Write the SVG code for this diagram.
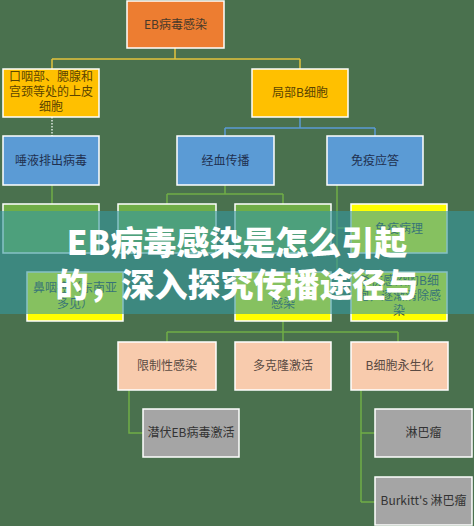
<svg xmlns="http://www.w3.org/2000/svg" width="474" height="526" viewBox="0 0 474 526">
<style>
.box{stroke:#ffffff;stroke-width:1.5}
.t{font-family:"Noto Sans CJK SC","Noto Sans",sans-serif;font-size:12px;text-anchor:middle}
.or{fill:#ed7d31}.ye{fill:#ffc000}.bl{fill:#5b9bd5}.gr{fill:#70ad47}.hl{fill:#ffff00}.pe{fill:#f8cbad}.gy{fill:#a5a5a5}
.c{fill:none;stroke-width:1.5}
.banner{font-family:"Noto Sans CJK SC","Noto Sans",sans-serif;font-size:33px;font-weight:900;fill:#ffffff;text-anchor:middle}
</style>
<rect width="474" height="526" fill="#4a714e"/>
<g id="connectors">
<path class="c" stroke="#e2c23c" d="M175,48V59M52,59H300M52,59V69M300,59V69"/>
<path class="c" stroke="#dde6e0" stroke-dasharray="1.5,1.5" d="M52,117V136"/>
<path class="c" stroke="#5b9bd5" d="M300,117V128M225,128H375M225,128V136M375,128V136"/>
<path class="c" stroke="#70ad47" d="M52,185V204M225,185V194M167,194H283M167,194V204M283,194V204M337,185V296M337,228H351M337,296H351"/>
<path class="c" stroke="#70ad47" d="M283,321V332M167,332H398M167,332V342M283,332V342M398,332V342"/>
<path class="c" stroke="#70ad47" d="M129,390V433H143M361,390V502M361,433H375M361,502H375"/>
</g>
<g id="n1"><rect class="box or" x="127" y="1" width="97" height="47"/><text class="t" x="175.5" y="29" fill="#4a3a2a">EB病毒感染</text></g>
<g id="n2"><rect class="box ye" x="3" y="69" width="96" height="48"/><text class="t" x="51" y="81" fill="#5c4500" font-size="12.5">口咽部、腮腺和</text><text class="t" x="51" y="96" fill="#5c4500" font-size="12.5">宫颈等处的上皮</text><text class="t" x="51" y="111" fill="#5c4500" font-size="12.5">细胞</text></g>
<g id="n3"><rect class="box ye" x="252" y="69" width="96" height="48"/><text class="t" x="300" y="97" fill="#5c4500">局部B细胞</text></g>
<g id="n4"><rect class="box bl" x="3" y="136" width="96" height="49"/><text class="t" x="51" y="165" fill="#1f3050">唾液排出病毒</text></g>
<g id="n5"><rect class="box bl" x="177" y="136" width="97" height="49"/><text class="t" x="225.5" y="165" fill="#1f3050">经血传播</text></g>
<g id="n6"><rect class="box bl" x="327" y="136" width="96" height="49"/><text class="t" x="375" y="165" fill="#1f3050">免疫应答</text></g>
<g id="n7"><rect class="box gr" x="3" y="204" width="96" height="49"/></g>
<g id="n8"><rect class="box gr" x="118" y="204" width="98" height="49"/></g>
<g id="n9"><rect class="box gr" x="235" y="204" width="96" height="49"/></g>
<g id="n10"><rect class="box hl" x="351" y="204" width="96" height="49"/><text class="t" x="399" y="233" fill="#3c3c3c">免疫病理</text></g>
<g id="n11"><rect class="box hl" x="27" y="272" width="96" height="49"/><text class="t" x="75" y="292" fill="#3c3c3c">鼻咽癌（东南亚</text><text class="t" x="75" y="308" fill="#3c3c3c">多见）</text></g>
<g id="n12"><rect class="box hl" x="235" y="272" width="96" height="49"/><text class="t" x="283" y="308" fill="#3c3c3c">感染</text></g>
<g id="n13"><rect class="box hl" x="351" y="272" width="96" height="49"/><text class="t" x="399" y="285" fill="#3c3c3c">杀伤感染的B细</text><text class="t" x="399" y="300" fill="#3c3c3c">胞，逐渐清除感</text><text class="t" x="399" y="315" fill="#3c3c3c">染</text></g>
<g id="n14"><rect class="box pe" x="118" y="342" width="98" height="48"/><text class="t" x="167" y="370" fill="#5a4a42">限制性感染</text></g>
<g id="n15"><rect class="box pe" x="235" y="342" width="96" height="48"/><text class="t" x="283" y="370" fill="#5a4a42">多克隆激活</text></g>
<g id="n16"><rect class="box pe" x="351" y="342" width="97" height="48"/><text class="t" x="399.5" y="370" fill="#5a4a42">B细胞永生化</text></g>
<g id="n17"><rect class="box gy" x="143" y="409" width="96" height="48"/><text class="t" x="191" y="437" fill="#333333">潜伏EB病毒激活</text></g>
<g id="n18"><rect class="box gy" x="375" y="409" width="97" height="48"/><text class="t" x="423.5" y="437" fill="#333333">淋巴瘤</text></g>
<g id="n19"><rect class="box gy" x="375" y="477" width="97" height="48"/><text class="t" x="423.5" y="505" fill="#333333" font-size="11.5">Burkitt's 淋巴瘤</text></g>
<g id="banner">
<rect x="0" y="211" width="474" height="103" fill="rgb(54,151,160)" opacity="0.6"/>
<text class="banner" x="237" y="255">EB病毒感染是怎么引起</text>
<text class="banner" x="237" y="297">的，深入探究传播途径与</text>
</g>
</svg>
